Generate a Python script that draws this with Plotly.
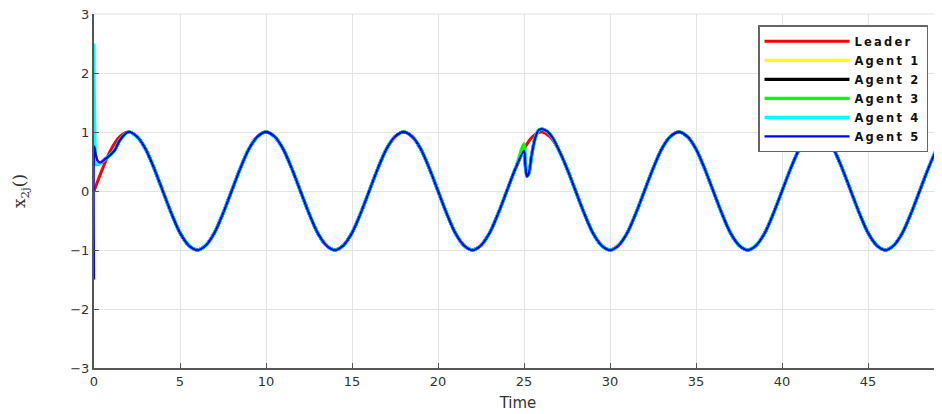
import plotly.graph_objects as go

leader_t = [i * 0.5 for i in range(100)]
leader_y = [
    0.00, 0.38, 0.71, 0.92, 1.00, 0.92, 0.71, 0.38, 0.00, -0.38, -0.71, -0.92, -1.00, -0.92, -0.71, -0.38,
    0.00, 0.38, 0.71, 0.92, 1.00, 0.92, 0.71, 0.38, 0.00, -0.38, -0.71, -0.92, -1.00, -0.92, -0.71, -0.38,
    0.00, 0.38, 0.71, 0.92, 1.00, 0.92, 0.71, 0.38, 0.00, -0.38, -0.71, -0.92, -1.00, -0.92, -0.71, -0.38,
    0.00, 0.38, 0.71, 0.92, 1.00, 0.92, 0.71, 0.38, 0.00, -0.38, -0.71, -0.92, -1.00, -0.92, -0.71, -0.38,
    0.00, 0.38, 0.71, 0.92, 1.00, 0.92, 0.71, 0.38, 0.00, -0.38, -0.71, -0.92, -1.00, -0.92, -0.71, -0.38,
    0.00, 0.38, 0.71, 0.92, 1.00, 0.92, 0.71, 0.38, 0.00, -0.38, -0.71, -0.92, -1.00, -0.92, -0.71, -0.38,
    0.00, 0.38, 0.71, 0.92,
]

# Initial transient of the agents (t in [0, 1.5])
init_t = [0.0, 0.02, 0.1, 0.2, 0.35, 0.6, 0.9, 1.2, 1.5]
init_agent1 = [0.75, 0.70, 0.55, 0.48, 0.47, 0.53, 0.60, 0.69, 0.86]
init_agent2 = [0.70, 0.68, 0.55, 0.48, 0.47, 0.53, 0.60, 0.69, 0.86]
init_agent3 = [0.50, 0.48, 0.45, 0.45, 0.47, 0.53, 0.60, 0.69, 0.86]
init_agent4 = [2.50, 1.60, 0.60, 0.46, 0.47, 0.53, 0.60, 0.69, 0.86]
init_agent5 = [-1.50, 0.75, 0.62, 0.52, 0.48, 0.53, 0.60, 0.69, 0.86]

# Disturbance around t = 25
dist_t = [25.0, 25.08, 25.17, 25.28, 25.45, 25.65, 25.85, 26.05, 26.35, 26.65]
dist_agent1 = [0.68, 0.42, 0.25, 0.30, 0.62, 0.90, 1.03, 1.05, 1.01, 0.91]
dist_agent2 = [0.68, 0.42, 0.25, 0.30, 0.62, 0.90, 1.03, 1.05, 1.01, 0.91]
dist_agent3 = [0.80, 0.60, 0.30, 0.30, 0.62, 0.90, 1.03, 1.05, 1.01, 0.91]
dist_agent4 = [0.68, 0.42, 0.25, 0.30, 0.62, 0.90, 1.03, 1.05, 1.01, 0.91]
dist_agent5 = [0.68, 0.42, 0.25, 0.30, 0.62, 0.90, 1.03, 1.05, 1.01, 0.91]

names = ["Leader", "Agent 1", "Agent 2", "Agent 3", "Agent 4", "Agent 5"]
colors = ["#ff0000", "#ffff00", "#000000", "#00ff00", "#00ffff", "#0000ff"]

x_ticks = [0, 5, 10, 15, 20, 25, 30, 35, 40, 45]
y_ticks = [-3, -2, -1, 0, 1, 2, 3]


def build_agent(init_y, dist_y):
    xs, ys = list(init_t), list(init_y)
    for t, v in zip(leader_t, leader_y):
        if 2.0 <= t <= 24.5:
            xs.append(t)
            ys.append(v)
    xs += dist_t
    ys += dist_y
    for t, v in zip(leader_t, leader_y):
        if t >= 27.0:
            xs.append(t)
            ys.append(v)
    return xs, ys


def spaced(s):
    return '<span style="letter-spacing:2.2px">' + s + '</span>'


fig = go.Figure()
fig.add_trace(go.Scatter(x=leader_t, y=leader_y, mode="lines", name=spaced(names[0]),
                         line=dict(color=colors[0], width=3, shape="spline", smoothing=1.0)))
agents = [(init_agent1, dist_agent1), (init_agent2, dist_agent2), (init_agent3, dist_agent3),
          (init_agent4, dist_agent4), (init_agent5, dist_agent5)]
for i, (iy, dy) in enumerate(agents):
    xs, ys = build_agent(iy, dy)
    fig.add_trace(go.Scatter(x=xs, y=ys, mode="lines", name=spaced(names[i + 1]),
                             line=dict(color=colors[i + 1], width=2.3 if i == 4 else 3.2,
                                       shape="spline", smoothing=0.8)))

# light grid line along the top edge (y = 3)
fig.add_shape(type="line", xref="paper", yref="paper", x0=0, x1=1, y0=1, y1=1,
              line=dict(color="#e3e3e3", width=1), layer="below")

axis_font = dict(family="DejaVu Sans", size=13, color="#333333")
fig.update_layout(
    width=934, height=406,
    margin=dict(l=86, r=0, t=6, b=46),
    paper_bgcolor="white", plot_bgcolor="white",
    font=dict(family="DejaVu Sans", size=13, color="#222222"),
    showlegend=True,
    legend=dict(x=0.9835, y=0.968, xanchor="right", yanchor="top",
                bgcolor="white", bordercolor="#666666", borderwidth=1.5,
                font=dict(family="DejaVu Sans", size=11.5, color="#111111", weight="bold"),
                itemwidth=85, tracegroupgap=0),
    xaxis=dict(range=[0, 49.3], tickvals=x_ticks, ticks="inside", ticklen=5,
               tickcolor="#555555", showline=True, linecolor="#555555", linewidth=2,
               showgrid=True, gridcolor="#e3e3e3", gridwidth=1, zeroline=False,
               tickfont=axis_font, automargin=False, ticklabeloverflow="allow",
               title=dict(text="Time", font=dict(family="DejaVu Sans", size=15, color="#333333"), standoff=10)),
    yaxis=dict(range=[-3, 3], tickvals=y_ticks, ticks="inside", ticklen=5,
               tickcolor="#555555", showline=True, linecolor="#555555", linewidth=2,
               showgrid=True, gridcolor="#e3e3e3", gridwidth=1, zeroline=False,
               tickfont=axis_font, automargin=False, ticklabeloverflow="allow",
               title=dict(text="x<sub>2j</sub>()", font=dict(family="DejaVu Serif", size=17, color="#333333"), standoff=40)),
)

fig.write_html("out.html")
